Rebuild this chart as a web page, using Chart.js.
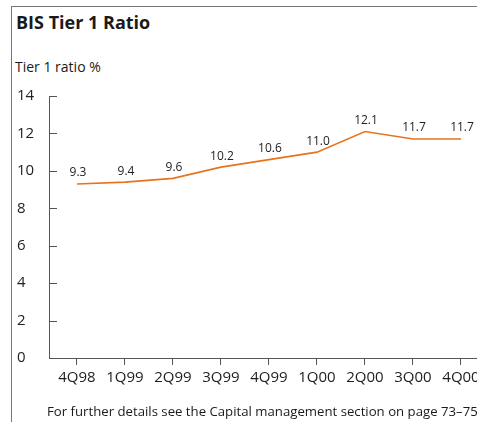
<!DOCTYPE html>
<html>
<head>
<meta charset="utf-8">
<script src="https://cdn.jsdelivr.net/npm/chart.js@4"></script>
<style>
	html, body { margin: 0; padding: 0; background: #fff; }
	body { width: 477px; height: 422px; overflow: hidden; position: relative; font-family: "Open Sans", sans-serif; color: #1a1a1a; }
	#frame { position: absolute; left: 11px; top: 6px; width: 600px; height: 500px; border-top: 1px solid #777; border-left: 1px solid #777; }
	#title { position: absolute; left: 16px; top: 10px; font-size: 18px; font-weight: bold; white-space: nowrap; }
	#unit { position: absolute; left: 15px; top: 57px; font-size: 14px; white-space: nowrap; }
	#note { position: absolute; left: 47px; top: 402px; font-size: 13.2px; white-space: nowrap; }
	#wrap { position: absolute; left: 0; top: 0; width: 540px; height: 422px; }
</style>
</head>
<body>
<div id="frame"></div>
<div id="title">BIS Tier 1 Ratio</div>
<div id="unit">Tier 1 ratio %</div>
<div id="wrap"><canvas id="chart"></canvas></div>
<div id="note">For further details see the Capital management section on page 73–75</div>
<script>
const quarters = ['4Q98', '1Q99', '2Q99', '3Q99', '4Q99', '1Q00', '2Q00', '3Q00', '4Q00'];
const tier1Ratio = [9.3, 9.4, 9.6, 10.2, 10.6, 11.0, 12.1, 11.7, 11.7];
const valueLabels = ['9.3', '9.4', '9.6', '10.2', '10.6', '11.0', '12.1', '11.7', '11.7'];
const yTicks = [0, 2, 4, 6, 8, 10, 12, 14];

const axisColor = '#555';
const lineColor = '#e8731c';

// petits traits vers l'intérieur sur l'axe Y + étiquettes de valeurs
const extras = {
	id: 'extras',
	afterDatasetsDraw(chart) {
		const ctx = chart.ctx;
		const y = chart.scales.y;
		const left = chart.chartArea.left;
		ctx.save();
		ctx.strokeStyle = axisColor;
		ctx.lineWidth = 1;
		yTicks.forEach(v => {
			const py = Math.round(y.getPixelForValue(v)) + 0.5;
			ctx.beginPath();
			ctx.moveTo(left, py);
			ctx.lineTo(left + 8, py);
			ctx.stroke();
		});
		ctx.fillStyle = '#222';
		ctx.font = '12px "Open Sans"';
		ctx.textAlign = 'center';
		ctx.textBaseline = 'bottom';
		chart.getDatasetMeta(0).data.forEach((pt, i) => {
			ctx.fillText(valueLabels[i], pt.x + 1, pt.y - 5);
		});
		ctx.restore();
	}
};

new Chart(document.getElementById('chart').getContext('2d'), {
	type: 'line',
	data: {
		datasets: [{
			data: tier1Ratio.map((v, i) => ({ x: i, y: v })),
			borderColor: lineColor,
			borderWidth: 1.6,
			pointRadius: 0,
			tension: 0,
			fill: false
		}]
	},
	options: {
		responsive: true,
		maintainAspectRatio: false,
		animation: false,
		layout: { padding: { left: 17, top: 96, right: 31, bottom: 24 } },
		plugins: { legend: { display: false }, tooltip: { enabled: false } },
		scales: {
			x: {
				type: 'linear',
				min: -0.583,
				max: 9.0,
				afterBuildTicks(s) { s.ticks = quarters.map((q, i) => ({ value: i })); },
				afterFit(s) { s.height = 40; },
				border: { color: axisColor, width: 1 },
				grid: { drawOnChartArea: false, tickLength: 7, color: axisColor },
				ticks: {
					padding: 4,
					maxRotation: 0,
					autoSkip: false,
					color: '#222',
					font: { family: 'Open Sans', size: 15 },
					callback: v => quarters[v]
				}
			},
			y: {
				min: 0,
				max: 14,
				afterBuildTicks(s) { s.ticks = yTicks.map(v => ({ value: v })); },
				afterFit(s) { s.width = 32; },
				border: { color: axisColor, width: 1 },
				grid: { display: false },
				ticks: {
					crossAlign: 'far',
					color: '#222',
					font: { family: 'Open Sans', size: 15 }
				}
			}
		}
	},
	plugins: [extras]
});
</script>
</body>
</html>
